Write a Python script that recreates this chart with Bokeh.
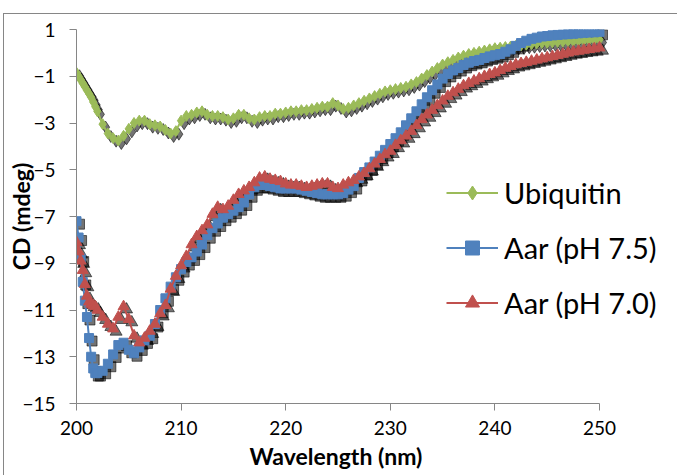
from bokeh.plotting import figure
from bokeh.models import Range1d, FixedTicker, Legend, LegendItem, Title
from bokeh.embed import file_html
from bokeh.resources import INLINE

# ---------------- data ----------------
wavelength = [200.0, 200.2, 200.4, 200.6, 200.8, 201.0, 201.2, 201.4, 201.6, 201.8, 202.0,
              202.5, 203.0, 203.5, 204.0, 204.5, 205.0, 205.5, 206.0, 206.5, 207.0, 207.5,
              208.0, 208.5, 209.0, 209.5, 210.0, 210.5, 211.0, 211.5, 212.0, 212.5, 213.0,
              213.5, 214.0, 214.5, 215.0, 215.5, 216.0, 216.5, 217.0, 217.5, 218.0, 218.5,
              219.0, 219.5, 220.0, 220.5, 221.0, 221.5, 222.0, 222.5, 223.0, 223.5, 224.0,
              224.5, 225.0, 225.5, 226.0, 226.5, 227.0, 227.5, 228.0, 228.5, 229.0, 229.5,
              230.0, 230.5, 231.0, 231.5, 232.0, 232.5, 233.0, 233.5, 234.0, 234.5, 235.0,
              235.5, 236.0, 236.5, 237.0, 237.5, 238.0, 238.5, 239.0, 239.5, 240.0, 240.5,
              241.0, 241.5, 242.0, 242.5, 243.0, 243.5, 244.0, 244.5, 245.0, 245.5, 246.0,
              246.5, 247.0, 247.5, 248.0, 248.5, 249.0, 249.5, 250.0]

ubiquitin = [-0.85, -1.0, -1.15, -1.3, -1.45, -1.6, -1.75, -1.9, -2.1, -2.3, -2.5,
             -3.05, -3.45, -3.65, -3.75, -3.55, -3.25, -3.0, -2.9, -2.9, -3.05, -3.1,
             -3.15, -3.3, -3.45, -3.35, -2.9, -2.7, -2.65, -2.55, -2.5, -2.65, -2.7,
             -2.7, -2.75, -2.85, -2.8, -2.65, -2.65, -2.8, -2.85, -2.75, -2.7, -2.7,
             -2.6, -2.6, -2.55, -2.5, -2.5, -2.45, -2.45, -2.4, -2.35, -2.3, -2.3,
             -2.15, -2.25, -2.4, -2.35, -2.25, -2.15, -2.05, -1.95, -1.85, -1.75, -1.65,
             -1.6, -1.55, -1.5, -1.45, -1.35, -1.25, -1.1, -0.95, -0.8, -0.65, -0.5,
             -0.4, -0.3, -0.2, -0.12, -0.05, 0.0, 0.05, 0.1, 0.15, 0.2, 0.22,
             0.25, 0.27, 0.3, 0.32, 0.35, 0.37, 0.4, 0.42, 0.43, 0.45, 0.47,
             0.48, 0.5, 0.5, 0.52, 0.53, 0.55, 0.56, 0.57]

aar_ph75 = [-7.2, -7.9, -8.8, -9.8, -10.6, -11.3, -12.2, -13.0, -13.5, -13.7, -13.7,
            -13.6, -13.3, -12.9, -12.5, -12.4, -12.7, -12.85, -12.6, -12.3, -12.1, -11.6,
            -11.0, -10.5, -10.0, -9.6, -9.25, -8.95, -8.75, -8.5, -8.2, -7.8, -7.5,
            -7.3, -7.05, -6.9, -6.75, -6.6, -6.4, -6.05, -5.75, -5.65, -5.65, -5.7,
            -5.75, -5.8, -5.8, -5.8, -5.8, -5.85, -5.9, -5.95, -6.0, -6.05, -6.05,
            -6.05, -6.05, -6.0, -5.85, -5.7, -5.35, -5.1, -4.9, -4.65, -4.4, -4.15,
            -3.9, -3.65, -3.4, -3.1, -2.8, -2.5, -2.2, -1.9, -1.6, -1.35, -1.1,
            -0.9, -0.75, -0.65, -0.52, -0.42, -0.35, -0.3, -0.22, -0.15, -0.1, -0.05,
            0.05, 0.15, 0.3, 0.42, 0.52, 0.6, 0.65, 0.7, 0.72, 0.75, 0.77,
            0.79, 0.8, 0.82, 0.84, 0.86, 0.87, 0.88, 0.9]

aar_ph70 = [-8.1, -8.5, -8.9, -9.3, -9.9, -10.4, -10.65, -10.75, -10.8, -10.85, -11.0,
            -11.3, -11.6, -11.8, -11.3, -10.85, -11.4, -12.1, -12.4, -12.2, -11.9, -11.6,
            -11.15, -10.8, -10.1, -9.55, -9.1, -8.7, -8.2, -7.85, -7.6, -7.35, -6.9,
            -6.6, -6.7, -6.55, -6.3, -6.05, -5.9, -5.75, -5.55, -5.35, -5.3, -5.4,
            -5.45, -5.5, -5.6, -5.65, -5.65, -5.7, -5.75, -5.7, -5.65, -5.6, -5.6,
            -5.75, -5.8, -5.65, -5.55, -5.45, -5.3, -5.15, -4.95, -4.75, -4.55, -4.35,
            -4.2, -3.95, -3.75, -3.55, -3.35, -3.1, -2.85, -2.65, -2.45, -2.25, -2.05,
            -1.85, -1.7, -1.55, -1.4, -1.3, -1.2, -1.1, -1.0, -0.92, -0.85, -0.75,
            -0.65, -0.58, -0.5, -0.45, -0.4, -0.35, -0.3, -0.25, -0.2, -0.15, -0.1,
            -0.05, 0.0, 0.05, 0.08, 0.12, 0.15, 0.18, 0.22]

series_names = ["Ubiquitin", "Aar (pH 7.5)", "Aar (pH 7.0)"]
x_ticks = [200, 210, 220, 230, 240, 250]
y_ticks = [-15, -13, -11, -9, -7, -5, -3, -1, 1]
x_title = "Wavelength (nm)"
y_title = "CD (mdeg)"

# ---------------- styles ----------------
colors = ["#9BBB59", "#4F81BD", "#C0504D"]
markers = ["diamond", "square", "triangle"]
msizes = [11, 9, 11]
FONT = "Lato"

# the axis spans 200..250 over 523 px; the frame is widened to the right so the
# legend (which overhangs the axis end) is not clipped
px_per_nm = 523 / 50
extra_px = 72
x_end = 250 + extra_px / px_per_nm

p = figure(width=674, height=462,
           x_range=Range1d(200, x_end), y_range=Range1d(-15, 1),
           output_backend="svg", toolbar_location=None,
           min_border_left=72, min_border_right=7,
           min_border_top=15, min_border_bottom=73)
p.margin = (13, 0, 0, 3)
p.styles = {"border-left": "1px solid #868686", "border-top": "1px solid #868686"}
p.outline_line_color = None
p.background_fill_color = "white"
p.border_fill_color = "white"
p.xgrid.visible = False
p.ygrid.visible = False

# shadow ranges: shift by ~3px right/down
dx = 3 / px_per_nm
dy = 3 * 16 / 374
p.extra_x_ranges = {"sx": Range1d(200 - dx, x_end - dx)}
p.extra_y_ranges = {"sy": Range1d(-15 + dy, 1 + dy)}

all_series = [ubiquitin, aar_ph75, aar_ph70]

for ys, mk, ms in zip(all_series, markers, msizes):
    p.scatter(wavelength, ys, marker=mk, size=ms + 1, color="black", alpha=0.55,
              x_range_name="sx", y_range_name="sy")

items = []
for name, ys, c, mk, ms in zip(series_names, all_series, colors, markers, msizes):
    ln = p.line(wavelength, ys, line_color=c, line_width=2)
    sc = p.scatter(wavelength, ys, marker=mk, size=ms, fill_color=c, line_color=c)
    items.append(LegendItem(label=name, renderers=[ln, sc]))

legend = Legend(items=items, location=(370, 83))
legend.padding = 0
legend.margin = 0
legend.spacing = 20
legend.glyph_width = 52
legend.glyph_height = 35
legend.label_height = 35
legend.label_standoff = 6
legend.label_text_font = FONT
legend.label_text_font_size = "29px"
legend.label_text_color = "black"
legend.border_line_color = None
legend.background_fill_alpha = 0
p.add_layout(legend, "center")

for ax in (p.xaxis[0], p.yaxis[0]):
    ax.axis_line_color = "#868686"
    ax.major_tick_line_color = "#868686"
    ax.minor_tick_line_color = None
    ax.major_tick_in = 0
    ax.major_tick_out = 7
    ax.major_label_text_font = FONT
    ax.major_label_text_font_size = "19px"
    ax.major_label_text_color = "black"
    ax.axis_label_text_font = FONT
    ax.axis_label_text_font_style = "bold"
    ax.axis_label_text_color = "black"
    ax.axis_label_text_font_size = "23px"

p.xaxis[0].bounds = (200, 250)
p.xaxis[0].ticker = FixedTicker(ticks=x_ticks)
p.yaxis[0].ticker = FixedTicker(ticks=y_ticks)
p.yaxis[0].axis_label = y_title
p.xaxis[0].major_label_standoff = 10
p.yaxis[0].major_label_standoff = 14
p.yaxis[0].axis_label_standoff = -16

# x title centred under the 200..250 axis (not under the widened frame)
xt = Title(text=x_title, align="left", offset=173, standoff=4,
           text_font=FONT, text_font_style="bold", text_font_size="23px",
           text_color="black")
p.add_layout(xt, "below")

open("out.html", "w").write(file_html(p, INLINE))
